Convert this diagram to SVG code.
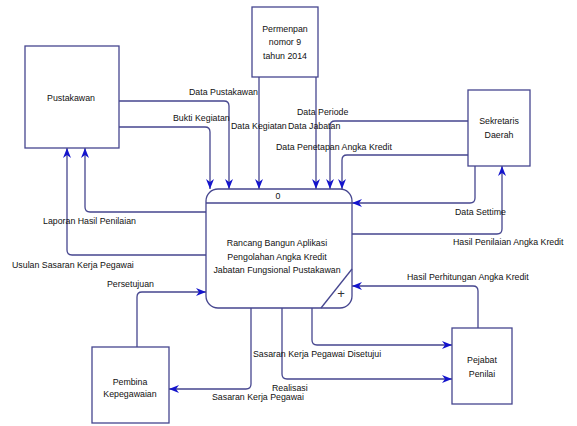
<svg xmlns="http://www.w3.org/2000/svg" width="577" height="426" viewBox="0 0 577 426">
<style>
.box{fill:#fff;stroke:#46468f;stroke-width:1.3}
.ln{fill:none;stroke:#46468f;stroke-width:1.3;marker-end:url(#arr)}
text{font-family:"Liberation Sans",Arial,sans-serif;font-size:8.8px;fill:#111}
.c{text-anchor:middle}
</style>
<defs>
<marker id="arr" markerUnits="userSpaceOnUse" markerWidth="10" markerHeight="8" refX="10" refY="4" orient="auto">
<path d="M0,0 L10,4 L0,8 L3,4 z" fill="#1414cc"/>
</marker>
</defs>
<rect width="577" height="426" fill="#fff"/>
<g id="connectors">
<path class="ln" d="M119,101 H224 Q229,101 229,106 V189"/>
<path class="ln" d="M119,127 H205 Q210,127 210,132 V189"/>
<path class="ln" d="M259,77 V189"/>
<path class="ln" d="M316,77 V189"/>
<path class="ln" d="M468,121 H335 Q330,121 330,126 V189"/>
<path class="ln" d="M468,155 H347 Q342,155 342,160 V189"/>
<path class="ln" d="M475,166 V198 Q475,203 470,203 H352"/>
<path class="ln" d="M352,234 H497 Q502,234 502,229 V166"/>
<path class="ln" d="M478,328 V291 Q478,286 473,286 H352"/>
<path class="ln" d="M312,308 V340 Q312,345 317,345 H452"/>
<path class="ln" d="M282,308 V374 Q282,379 287,379 H452"/>
<path class="ln" d="M251,308 V384 Q251,389 246,389 H169"/>
<path class="ln" d="M137,347 V297 Q137,292 142,292 H206"/>
<path class="ln" d="M206,212 H90 Q85,212 85,207 V148"/>
<path class="ln" d="M206,255 H72 Q67,255 67,250 V148"/>
<text x="189" y="95">Data Pustakawan</text>
<text x="173" y="121">Bukti Kegiatan</text>
<text x="231" y="129">Data Kegiatan</text>
<text x="288" y="129">Data Jabatan</text>
<text x="297" y="115">Data Periode</text>
<text x="276" y="150">Data Penetapan Angka Kredit</text>
<text x="455" y="215">Data Settime</text>
<text x="453" y="245">Hasil Penilaian Angka Kredit</text>
<text x="407" y="280">Hasil Perhitungan Angka Kredit</text>
<text x="253" y="357">Sasaran Kerja Pegawai Disetujui</text>
<text x="272" y="391">Realisasi</text>
<text x="212" y="400">Sasaran Kerja Pegawai</text>
<text x="107" y="287">Persetujuan</text>
<text x="43" y="224">Laporan Hasil Penilaian</text>
<text x="12" y="268">Usulan Sasaran Kerja Pegawai</text>
</g>
<g id="pustakawan">
<rect class="box" x="25" y="46" width="94" height="102"/>
<text class="c" x="71" y="101">Pustakawan</text>
</g>
<g id="permenpan">
<rect class="box" x="252" y="7" width="66" height="70"/>
<text class="c" x="285" y="32">Permenpan</text>
<text class="c" x="285" y="45">nomor 9</text>
<text class="c" x="285" y="59">tahun 2014</text>
</g>
<g id="sekretaris">
<rect class="box" x="468" y="90" width="62" height="76"/>
<text class="c" x="499" y="124">Sekretaris</text>
<text class="c" x="499" y="138">Daerah</text>
</g>
<g id="process">
<rect class="box" x="206" y="189" width="146" height="119" rx="12" ry="12"/>
<line x1="206" y1="203" x2="352" y2="203" stroke="#46468f" stroke-width="1.3"/>
<line x1="321" y1="308" x2="352" y2="269" stroke="#46468f" stroke-width="1.3"/>
<text class="c" x="278" y="199">0</text>
<text class="c" x="277" y="246">Rancang Bangun Aplikasi</text>
<text class="c" x="277" y="260">Pengolahan Angka Kredit</text>
<text class="c" x="277" y="273">Jabatan Fungsional Pustakawan</text>
<text class="c" x="341" y="298" style="font-size:13px;fill:#333">+</text>
</g>
<g id="pejabat">
<rect class="box" x="452" y="328" width="60" height="76"/>
<text class="c" x="482" y="363">Pejabat</text>
<text class="c" x="482" y="377">Penilai</text>
</g>
<g id="pembina">
<rect class="box" x="92" y="347" width="77" height="76"/>
<text class="c" x="130" y="385">Pembina</text>
<text class="c" x="130" y="397">Kepegawaian</text>
</g>
</svg>
